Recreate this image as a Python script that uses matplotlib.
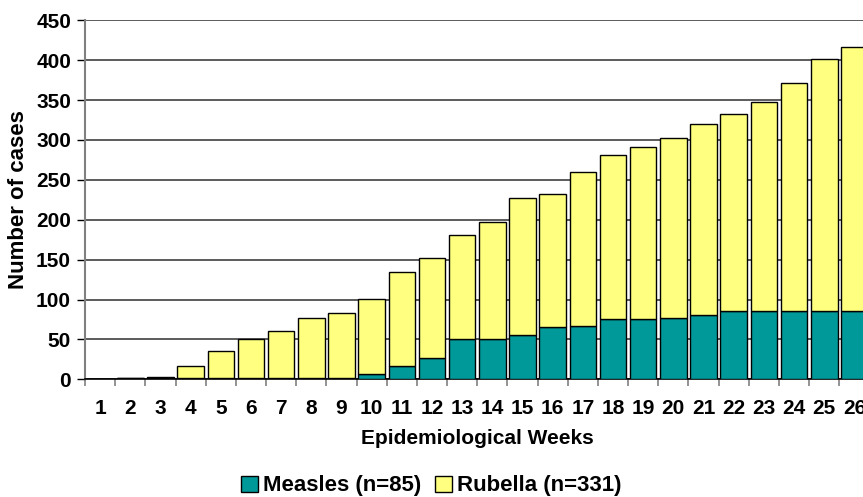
import numpy as np
import matplotlib.pyplot as plt
from matplotlib.patches import Patch

plt.rcParams['font.family'] = ['Liberation Sans', 'DejaVu Sans']
plt.rcParams['font.weight'] = 'bold'

weeks = list(range(1, 27))
week_labels = [str(w) for w in weeks]
measles = [1, 2, 2, 2, 2, 2, 2, 2, 2, 7, 17, 27, 50, 50, 56, 66, 67, 75, 75, 77,
           81, 86, 85, 85, 86, 85]
totals = [1, 2, 3, 17, 35, 51, 61, 77, 83, 101, 135, 152, 181, 197, 227, 232, 260,
          281, 291, 302, 320, 332, 347, 372, 402, 416]
rubella = [t - m for t, m in zip(totals, measles)]

teal = '#009999'
yellow = '#FFFF80'

fig = plt.figure(figsize=(8.63, 4.97), dpi=100)
ax = fig.add_axes([85 / 863, 1 - 379.3 / 497, (869.5 - 85) / 863, (379.3 - 20.3) / 497])

x = np.arange(len(weeks))
ax.bar(x, measles, width=0.88, color=teal, edgecolor='black', linewidth=1, zorder=3)
ax.bar(x, rubella, width=0.88, bottom=measles, color=yellow, edgecolor='black',
       linewidth=1, zorder=3)

ax.set_xlim(-0.5, len(weeks) - 0.5)
ax.set_ylim(0, 450)
ax.set_yticks(range(0, 451, 50))
ax.yaxis.grid(True, color='#404040', linewidth=1.2, zorder=0)
ax.set_axisbelow(True)

# week 26 is cut by the right edge, as in the source image
ax.set_xticks(x)
ax.set_xticklabels(week_labels, fontsize=15, fontweight='bold')
ax.set_xticks(np.arange(-0.5, len(weeks)), minor=True)
ax.tick_params(axis='x', which='major', length=0, pad=14)
ax.tick_params(axis='x', which='minor', length=5, color='#808080', width=1.2)
ax.tick_params(axis='y', length=6, width=1, color='black', labelsize=15, pad=4)
for lbl in ax.get_yticklabels():
    lbl.set_fontweight('bold')

ax.spines['top'].set_visible(False)
ax.spines['right'].set_visible(False)
ax.spines['left'].set_color('#808080')
ax.spines['left'].set_linewidth(1.5)
ax.spines['bottom'].set_color('black')
ax.spines['bottom'].set_linewidth(1.2)

ax.set_xlabel('Epidemiological Weeks', fontsize=15, fontweight='bold', labelpad=8)
ax.set_ylabel('Number of cases', fontsize=16, fontweight='bold', labelpad=5)

handles = [Patch(facecolor=teal, edgecolor='black', label='Measles (n=85)'),
           Patch(facecolor=yellow, edgecolor='black', label='Rubella (n=331)')]
fig.legend(handles=handles, loc='center', bbox_to_anchor=(0.5, 1 - 486 / 497),
           ncol=2, frameon=False, prop={'size': 16, 'weight': 'bold'},
           handlelength=0.75, handleheight=0.75, handletextpad=0.25, columnspacing=0.6,
           borderpad=0)

fig.savefig('out.png', dpi=100)
